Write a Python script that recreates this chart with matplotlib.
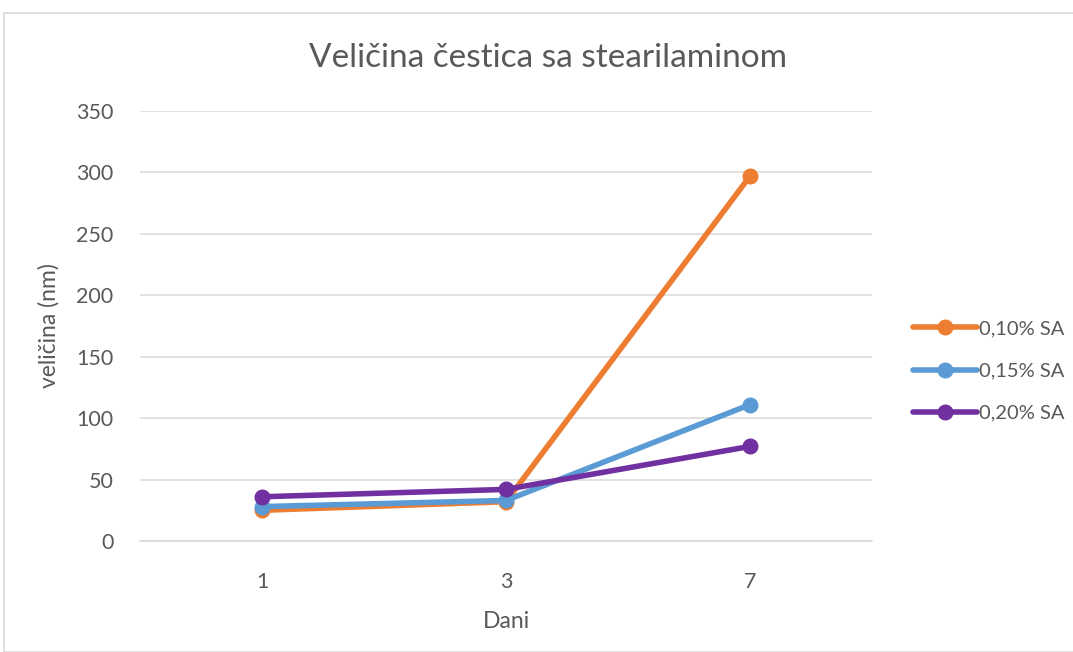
import matplotlib
matplotlib.use("Agg")
import matplotlib.pyplot as plt
from matplotlib.patches import Rectangle

days = ["1", "3", "7"]
series_names = ["0,10% SA", "0,15% SA", "0,20% SA"]
sa_010 = [25, 32, 297]
sa_015 = [28, 33, 111]
sa_020 = [36, 42, 77]
colors = ["#ED7D31", "#5B9BD5", "#7030A0"]
yticks = [0, 50, 100, 150, 200, 250, 300, 350]

plt.rcParams['font.family'] = ['Lato', 'DejaVu Sans']
txt = "#595959"

fig = plt.figure(figsize=(10.73, 6.52), dpi=100)
fig.patches.append(Rectangle((4/1073, 0), 1.2, 1 - 13/652, transform=fig.transFigure,
                             fill=False, edgecolor="#d9d9d9", linewidth=1.2))
ax = fig.add_axes([140/1073, 1 - 541/652, 732/1073, 430/652])

x = list(range(len(days)))
for vals, name, c in zip([sa_010, sa_015, sa_020], series_names, colors):
    ax.plot(x, vals, color=c, linewidth=4.0, marker="o", markersize=10.5,
            label=name, solid_capstyle="round", zorder=3)

ax.set_xlim(-0.5, len(days) - 0.5)
ax.set_ylim(0, 350)
ax.set_yticks(yticks)
ax.set_xticks(x)
ax.set_xticklabels(days)
ax.grid(axis="y", color="#d9d9d9", linewidth=1.1)
ax.set_axisbelow(True)
for s in ["top", "right", "left"]:
    ax.spines[s].set_visible(False)
ax.spines["bottom"].set_color("#d9d9d9")
ax.spines["bottom"].set_linewidth(1.1)
ax.tick_params(length=0, labelsize=15.5, colors=txt)
ax.tick_params(axis="x", pad=22)
ax.tick_params(axis="y", pad=19)
ax.set_xlabel("Dani", fontsize=16.5, color=txt, labelpad=14)
ax.set_ylabel("veličina (nm)", fontsize=16.5, color=txt, labelpad=12)
fig.text(548/1073, 1 - 58/652, "Veličina čestica sa stearilaminom", ha="center", va="center",
         fontsize=24, color=txt)

leg = ax.legend(loc="center left", bbox_to_anchor=(1.045, (541 - 371) / 430), frameon=False,
                fontsize=14.5, labelcolor=txt, handlelength=3.2, handletextpad=0.1,
                labelspacing=1.25, borderaxespad=0)

fig.savefig("out.png", dpi=100, facecolor="white")
